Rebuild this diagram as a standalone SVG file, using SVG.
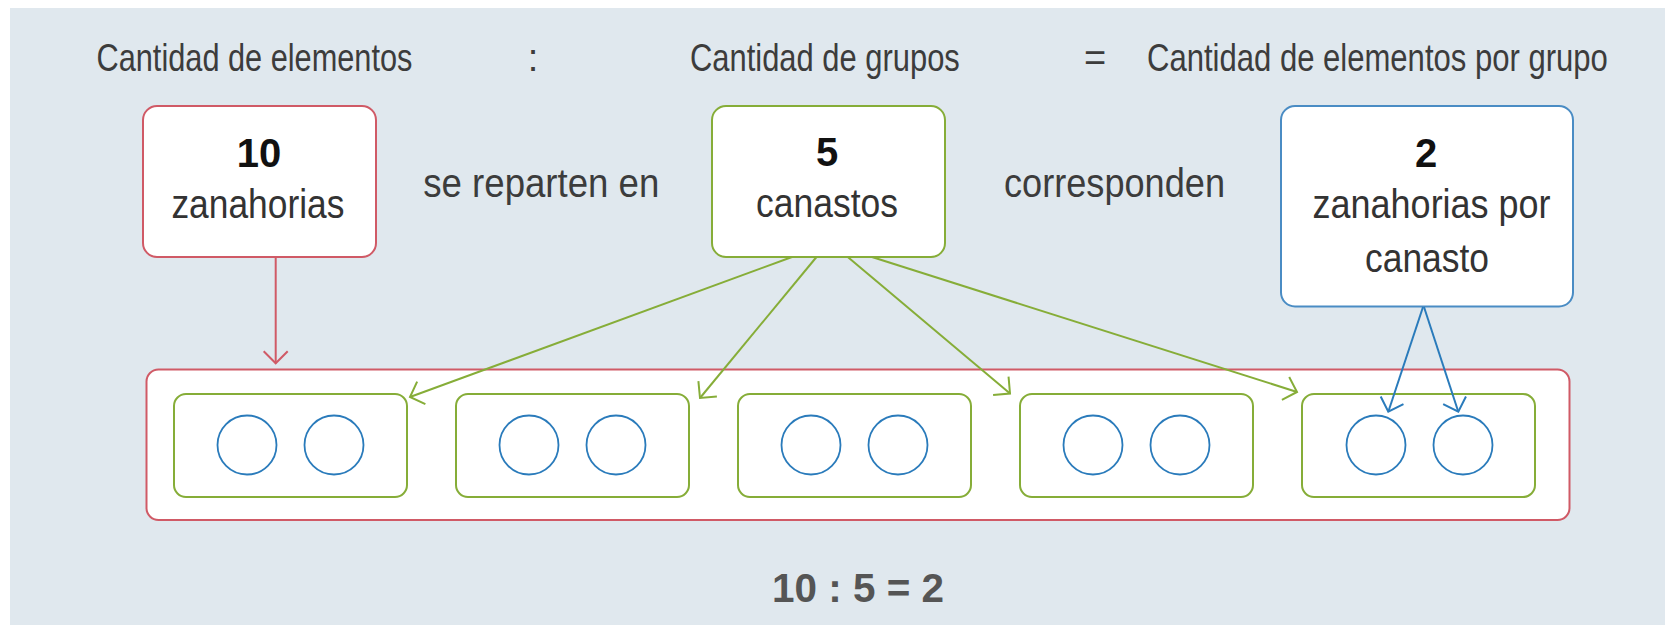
<svg xmlns="http://www.w3.org/2000/svg" width="1665" height="625" viewBox="0 0 1665 625">
<defs>
<style>
.t{font-family:"Liberation Sans",Arial,sans-serif;font-size:40px;fill:#3c3c3c}
.h{font-family:"Liberation Sans",Arial,sans-serif;font-size:38px;fill:#3c3c3c}
.s{fill:#333}
.b{font-family:"Liberation Sans",Arial,sans-serif;font-size:40px;font-weight:bold;fill:#111}
.eq{fill:#555}
.box{fill:#fff;stroke-width:2}
.red{stroke:#d05a66}
.grn{stroke:#86ad38}
.blu{stroke:#4a8cc4}
.bask{fill:#fff;stroke:#86ad38;stroke-width:2}
.car{fill:none;stroke:#2a7bbb;stroke-width:1.8}
.cn{fill:none;stroke-width:2}
.cb{stroke:#2a7bbb}
</style>
<marker id="ar" markerUnits="userSpaceOnUse" markerWidth="30" markerHeight="30" refX="14" refY="14" orient="auto" overflow="visible"><path d="M2,2 L14,14 L2,26" fill="none" stroke="#d05a66" stroke-width="2"/></marker>
<marker id="ag" markerUnits="userSpaceOnUse" markerWidth="30" markerHeight="30" refX="14" refY="14" orient="auto" overflow="visible"><path d="M2,2 L14,14 L2,26" fill="none" stroke="#86ad38" stroke-width="2"/></marker>
<marker id="ab" markerUnits="userSpaceOnUse" markerWidth="30" markerHeight="30" refX="14" refY="14" orient="auto" overflow="visible"><path d="M2,2 L14,14 L2,26" fill="none" stroke="#2a7bbb" stroke-width="2"/></marker>
</defs>
<rect x="0" y="0" width="1665" height="625" fill="#ffffff"/>
<rect x="10" y="8" width="1655" height="617" fill="#e0e8ee"/>

<g id="headers">
<text class="h" transform="translate(96.5,70.5) scale(0.8086,1)" x="0" y="0">Cantidad de elementos</text>
<text class="h" x="533" y="70.5" text-anchor="middle">:</text>
<text class="h" transform="translate(690,70.5) scale(0.814,1)" x="0" y="0">Cantidad de grupos</text>
<text class="h" x="1095" y="70.5" text-anchor="middle">=</text>
<text class="h" transform="translate(1147,70.5) scale(0.8174,1)" x="0" y="0">Cantidad de elementos por grupo</text>
</g>

<g id="container">
<rect class="box red" x="146.5" y="369.5" width="1423" height="150.5" rx="12"/>
</g>

<g id="elementos">
<rect class="box red" x="143" y="106" width="233" height="151" rx="14"/>
<text class="b" x="259" y="166.7" text-anchor="middle">10</text>
<text class="t s" x="171.4" y="218" textLength="173" lengthAdjust="spacingAndGlyphs">zanahorias</text>
</g>

<g id="label-reparten">
<text class="t" x="423.3" y="196.7" textLength="236" lengthAdjust="spacingAndGlyphs">se reparten en</text>
</g>

<g id="grupos">
<rect class="box grn" x="712" y="106" width="233" height="151" rx="14"/>
<text class="b" x="827" y="166" text-anchor="middle">5</text>
<text class="t s" x="756" y="217.3" textLength="142" lengthAdjust="spacingAndGlyphs">canastos</text>
</g>

<g id="label-corresponden">
<text class="t" x="1004" y="196.5" textLength="221" lengthAdjust="spacingAndGlyphs">corresponden</text>
</g>

<g id="por-grupo">
<rect class="box blu" x="1281" y="106" width="292" height="200.5" rx="14"/>
<text class="b" x="1426" y="166.7" text-anchor="middle">2</text>
<text class="t s" x="1312.6" y="218.3" textLength="238" lengthAdjust="spacingAndGlyphs">zanahorias por</text>
<text class="t s" x="1365" y="271.7" textLength="124" lengthAdjust="spacingAndGlyphs">canasto</text>
</g>

<g id="canasto1">
<rect class="bask" x="174" y="394" width="233" height="103" rx="12"/>
<circle class="car" cx="247" cy="445" r="29.5"/>
<circle class="car" cx="334" cy="445" r="29.5"/>
</g>
<g id="canasto2">
<rect class="bask" x="456" y="394" width="233" height="103" rx="12"/>
<circle class="car" cx="529" cy="445" r="29.5"/>
<circle class="car" cx="616" cy="445" r="29.5"/>
</g>
<g id="canasto3">
<rect class="bask" x="738" y="394" width="233" height="103" rx="12"/>
<circle class="car" cx="811" cy="445" r="29.5"/>
<circle class="car" cx="898" cy="445" r="29.5"/>
</g>
<g id="canasto4">
<rect class="bask" x="1020" y="394" width="233" height="103" rx="12"/>
<circle class="car" cx="1093" cy="445" r="29.5"/>
<circle class="car" cx="1180" cy="445" r="29.5"/>
</g>
<g id="canasto5">
<rect class="bask" x="1302" y="394" width="233" height="103" rx="12"/>
<circle class="car" cx="1376" cy="445" r="29.5"/>
<circle class="car" cx="1463" cy="445" r="29.5"/>
</g>

<g id="connectors">
<line class="cn red" x1="275.7" y1="258" x2="275.7" y2="363.3" marker-end="url(#ar)"/>
<line class="cn grn" x1="792" y1="257" x2="410" y2="397" marker-end="url(#ag)"/>
<line class="cn grn" x1="816.5" y1="257" x2="700" y2="398" marker-end="url(#ag)"/>
<line class="cn grn" x1="847.8" y1="257" x2="1010" y2="393.5" marker-end="url(#ag)"/>
<line class="cn grn" x1="872" y1="257" x2="1297" y2="392" marker-end="url(#ag)"/>
<line class="cn cb" x1="1423" y1="307" x2="1388.3" y2="411.7" marker-end="url(#ab)"/>
<line class="cn cb" x1="1424" y1="307" x2="1458.3" y2="411.7" marker-end="url(#ab)"/>
</g>

<g id="ecuacion">
<text class="b eq" x="772" y="601.7" textLength="172" lengthAdjust="spacingAndGlyphs">10 : 5 = 2</text>
</g>
</svg>
